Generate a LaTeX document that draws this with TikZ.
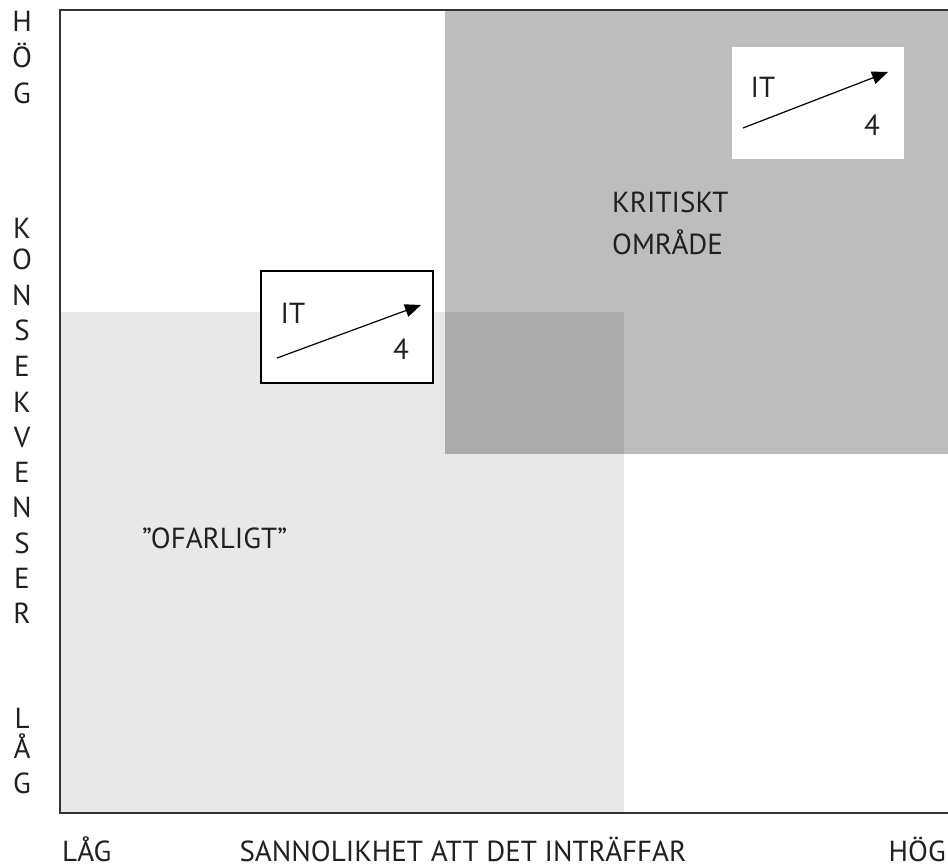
\documentclass[tikz,border=0pt]{standalone}
\usepackage{fontspec}
\setmainfont{PT Sans}
\usetikzlibrary{arrows.meta}
\definecolor{lightzone}{HTML}{E8E8E8}
\definecolor{darkzone}{HTML}{BDBDBD}
\definecolor{overlapzone}{HTML}{ABABAB}
\definecolor{frameline}{HTML}{333333}
\definecolor{inktext}{HTML}{231F20}
\begin{document}
\begin{tikzpicture}[x=1pt,y=-1pt,
  lbl/.style={font=\fontsize{29}{42}\selectfont, text=inktext, inner sep=0pt},
  vlbl/.style={lbl, anchor=base},
  itbox/.style={fill=white, minimum width=172pt, minimum height=112pt, inner sep=0pt},
  itarrow/.style={line width=1.2pt, -{Triangle[length=16pt,width=13pt]}}
]
\useasboundingbox (0,0) rectangle (948,867);
% zones
\fill[lightzone] (60,312) rectangle (624,813);
\fill[darkzone] (445,10) rectangle (948,454);
\fill[overlapzone] (445,312) rectangle (624,454);
% frame
\draw[frameline, line width=1.5pt] (948,10) -- (60,10) -- (60,813) -- (948,813);
% boxes
\node[itbox, draw=black, line width=1.3pt] (box1) at (347,327) {};
\node[itbox] (box2) at (818,103) {};
% box 1 content
\node[lbl, anchor=base] (it1) at (293,323) {IT};
\node[lbl, anchor=base] (four1) at (401,359) {4};
\coordinate (a1s) at (277,358);
\coordinate (a1e) at (421,305);
\draw[itarrow] (a1s) -- (a1e);
% box 2 content
\node[lbl, anchor=base] (it2) at (763,97) {IT};
\node[lbl, anchor=base] (four2) at (872,135) {4};
\coordinate (a2s) at (743,128);
\coordinate (a2e) at (888,72);
\draw[itarrow] (a2s) -- (a2e);
% zone labels
\node[lbl, anchor=base west] (krit1) at (612,212) {KRITISKT};
\node[lbl, anchor=base west] (krit2) at (612,254) {OMRÅDE};
\node[lbl, anchor=base west] (ofar) at (142,548) {”OFARLIGT”};
% vertical axis letters
\foreach \ch/\yy [count=\i] in {H/32,Ö/67,G/103,K/238,O/269,N/305,S/340,E/376,K/412,V/447,E/482,N/517,S/553,E/588,R/623,L/728,Å/758,G/793}{
  \node[vlbl] (v\i) at (22,\yy) {\ch};
}
% bottom axis labels
\node[lbl, anchor=base west] (xlow) at (62,861) {LÅG};
\node[lbl, anchor=base] (xtitle) at (463,861) {SANNOLIKHET ATT DET INTRÄFFAR};
\node[lbl, anchor=base east] (xhigh) at (946,861) {HÖG};
\end{tikzpicture}
\end{document}
